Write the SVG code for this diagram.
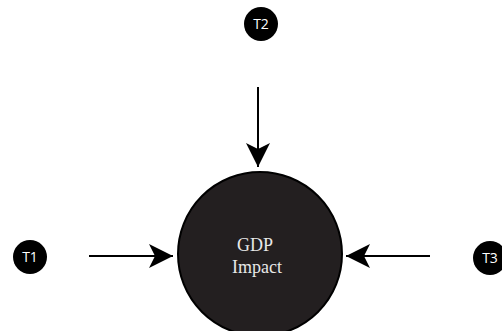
<svg xmlns="http://www.w3.org/2000/svg" width="502" height="331" viewBox="0 0 502 331">
<defs>
<marker id="ah" viewBox="0 0 24 24" markerWidth="24" markerHeight="24" refX="24" refY="12" orient="auto" markerUnits="userSpaceOnUse">
<path d="M0,0 L24,12 L0,24 L6,12 Z" fill="#000"/>
</marker>
<style>
.t{fill:#000}
.tl{font-family:"Open Sans","Liberation Sans",sans-serif;font-size:14px;fill:#fff;text-anchor:middle}
.c{stroke:#000;stroke-width:2;fill:none}
.m{font-family:"Liberation Serif",serif;font-size:18px;fill:#e8e8e8;text-anchor:middle}
</style>
</defs>
<rect width="502" height="331" fill="#fff"/>
<g id="connectors">
<line class="c" x1="89" y1="256" x2="173" y2="256" marker-end="url(#ah)"/>
<line class="c" x1="258" y1="87" x2="258" y2="167" marker-end="url(#ah)"/>
<line class="c" x1="430" y1="256" x2="346" y2="256" marker-end="url(#ah)"/>
</g>
<g id="gdp">
<circle cx="260" cy="254" r="82" fill="#231f20" stroke="#000" stroke-width="2"/>
<text class="m" x="255" y="251">GDP</text>
<text class="m" x="257" y="273">Impact</text>
</g>
<g id="t1">
<circle class="t" cx="30" cy="257" r="17"/>
<text class="tl" x="30" y="262">T1</text>
</g>
<g id="t2">
<circle class="t" cx="261" cy="24" r="17"/>
<text class="tl" x="261" y="29">T2</text>
</g>
<g id="t3">
<circle class="t" cx="490" cy="258" r="17"/>
<text class="tl" x="490" y="263">T3</text>
</g>
</svg>
